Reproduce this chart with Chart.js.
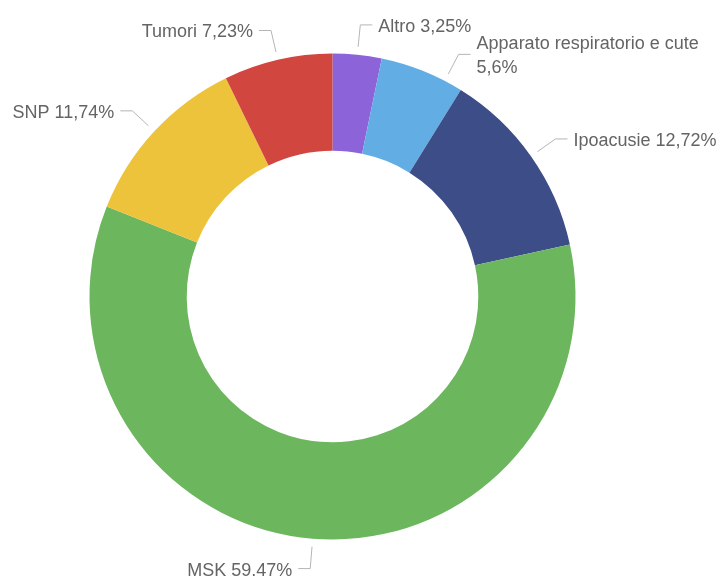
<!DOCTYPE html>
<html>
<head>
<meta charset="utf-8">
<script src="https://cdn.jsdelivr.net/npm/chart.js@4"></script>
<style>
  html, body { margin: 0; padding: 0; background: #fff; }
  #wrap { width: 716px; height: 576px; }
</style>
</head>
<body>
<div id="wrap"><canvas id="donut" width="716" height="576"></canvas></div>
<script>
// dati
const categories = ['Altro', 'Apparato respiratorio e cute', 'Ipoacusie', 'MSK', 'SNP', 'Tumori'];
const percent = [3.25, 5.6, 12.72, 59.47, 11.74, 7.23];
const sliceColors = ['#8C63D8', '#62ADE4', '#3D4D87', '#6CB65E', '#EEC33C', '#D1473F'];

const labelFont = '18px "Liberation Sans", Arial, sans-serif';
const labelColor = '#646464';
const lineColor = '#b5b5b5';

function fmt(v) {
  return String(v).replace('.', ',') + '%';
}

// etichette con linee guida
const outsideLabels = {
  id: 'outsideLabels',
  afterDatasetsDraw(chart) {
    const ctx = chart.ctx;
    const meta = chart.getDatasetMeta(0);
    const W = chart.width;
    const lineH = 24;
    ctx.save();
    ctx.font = labelFont;

    let items = meta.data.map(function(arc, i) {
      const p = arc.getProps(['x', 'y', 'startAngle', 'endAngle', 'outerRadius'], true);
      const mid = (p.startAngle + p.endAngle) / 2;
      const right = Math.cos(mid) >= 0;
      const text = categories[i] + ' ' + fmt(percent[i]);
      const ex = p.x + (p.outerRadius + 30) * Math.cos(mid);
      const tx = right ? ex + 18 : ex - 18;
      const avail = right ? W - tx + 3 : tx + 3;
      // a capo se non entra
      let lines = [];
      let cur = '';
      text.split(' ').forEach(function(w) {
        const t = cur ? cur + ' ' + w : w;
        if (cur && ctx.measureText(t).width > avail) {
          lines.push(cur);
          cur = w;
        } else {
          cur = t;
        }
      });
      lines.push(cur);
      return { cx: p.x, cy: p.y, r: p.outerRadius, a: mid, right: right, lines: lines };
    });

    function elbowY(it) { return it.cy + (it.r + 30) * Math.sin(it.a); }
    function half(it) { return ((it.lines.length - 1) * lineH + 16) / 2; }

    [true, false].forEach(function(side) {
      let group = items.filter(function(it) { return it.right === side; });
      group.sort(function(a, b) { return elbowY(a) - elbowY(b); });
      let prevBottom = -Infinity;
      group.forEach(function(it) {
        let guard = 0;
        while (elbowY(it) - half(it) < prevBottom + 1 && guard < 400) {
          it.a += side ? 0.005 : -0.005;
          guard++;
        }
        prevBottom = elbowY(it) + half(it);
      });
    });

    items.forEach(function(it) {
      const c = Math.cos(it.a), s = Math.sin(it.a);
      const sx = it.cx + (it.r + 8) * c, sy = it.cy + (it.r + 8) * s;
      const ex = it.cx + (it.r + 30) * c, ey = it.cy + (it.r + 30) * s;
      const hx = it.right ? ex + 12 : ex - 12;
      ctx.strokeStyle = lineColor;
      ctx.lineWidth = 1;
      ctx.beginPath();
      ctx.moveTo(sx, sy);
      ctx.lineTo(ex, ey);
      ctx.lineTo(hx, ey);
      ctx.stroke();

      ctx.fillStyle = labelColor;
      ctx.textAlign = it.right ? 'left' : 'right';
      ctx.textBaseline = 'middle';
      const tx = it.right ? hx + 6 : hx - 6;
      const top = ey - (it.lines.length - 1) * lineH / 2 + 2;
      it.lines.forEach(function(l, k) {
        ctx.fillText(l, tx, top + k * lineH);
      });
    });
    ctx.restore();
  }
};

const donutChart = new Chart(document.getElementById('donut'), {
  type: 'doughnut',
  data: {
    labels: categories,
    datasets: [{
      data: percent,
      backgroundColor: sliceColors,
      borderWidth: 0,
      hoverOffset: 0
    }]
  },
  options: {
    responsive: false,
    animation: false,
    events: [],
    cutout: '60%',
    layout: {
      padding: { left: 89.5, right: 140.5, top: 53.5, bottom: 36.5 }
    },
    plugins: {
      legend: { display: false },
      tooltip: { enabled: false }
    }
  },
  plugins: [outsideLabels]
});
</script>
</body>
</html>
